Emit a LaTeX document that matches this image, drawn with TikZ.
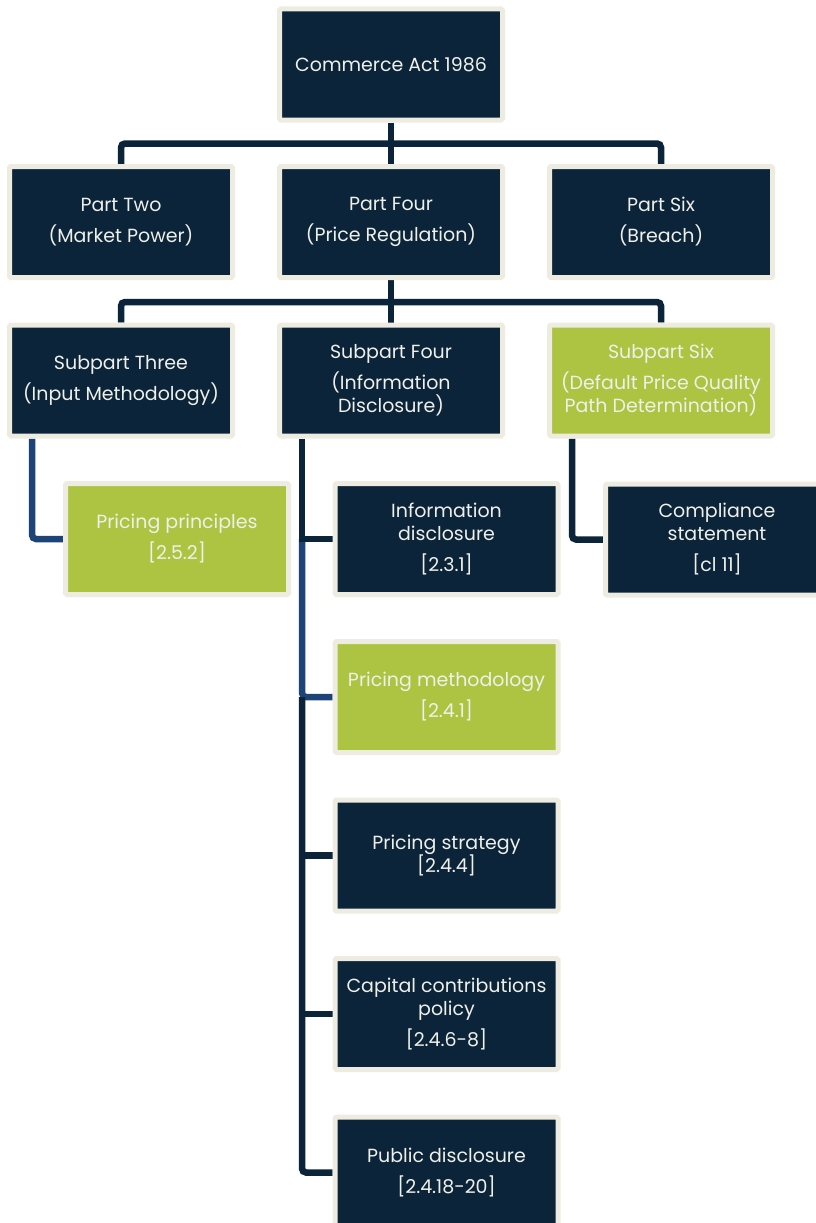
\documentclass[tikz,border=0pt]{standalone}
\usepackage{fontspec}
\setmainfont{Poppins}
\usetikzlibrary{backgrounds}
\definecolor{navy}{HTML}{0B2439}
\definecolor{cream}{HTML}{EEECE1}
\definecolor{lime}{HTML}{ADC342}
\definecolor{cblue}{HTML}{1E4477}
\definecolor{txt}{HTML}{F0F0EA}
\begin{document}
\begin{tikzpicture}[x=1pt,y=-1pt,
  box/.style={draw=cream, line width=5pt, fill=navy, minimum width=223pt, minimum height=111pt,
    inner sep=0pt, align=center, text=txt, font=\fontsize{19}{23}\selectfont, rounded corners=1.5pt},
  gbox/.style={box, fill=lime},
  conn/.style={draw=navy, line width=6.5pt, rounded corners=4pt},
  bconn/.style={conn, draw=cblue}]
\useasboundingbox (0,0) rectangle (816,1223);
\clip (0,0) rectangle (816,1223);

\node[box] (top) at (391,64.5) {Commerce Act 1986};
\node[box] (p2) at (121,222) {Part Two\\[8pt](Market Power)};
\node[box] (p4) at (391,222) {Part Four\\[8pt](Price Regulation)};
\node[box] (p6) at (661,222) {Part Six\\[8pt](Breach)};
\node[box] (s3) at (121,380.5) {Subpart Three\\[8pt](Input Methodology)};
\node[box] (s4) at (391,380.5) {Subpart Four\\[8pt](Information\\Disclosure)};
\node[gbox] (s6) at (661,380.5) {Subpart Six\\[8pt](Default Price Quality\\Path Determination)};
\node[gbox] (pp) at (177,539) {Pricing principles\\[8pt][2.5.2]};
\node[box] (c1) at (446.5,539) {Information\\disclosure\\[8pt][2.3.1]};
\node[gbox] (c2) at (446.5,697) {Pricing methodology\\[8pt][2.4.1]};
\node[box] (c3) at (446.5,855.5) {Pricing strategy\\{}[2.4.4]};
\node[box] (c4) at (446.5,1014) {Capital contributions\\policy\\[8pt][2.4.6-8]};
\node[box] (c5) at (446.5,1172.5) {Public disclosure\\[8pt][2.4.18-20]};
\node[box] (cs) at (717,539.5) {Compliance\\statement\\[8pt][cl 11]};

\begin{scope}[on background layer]
  \fill[white] (0,0) rectangle (816,1223);
  \coordinate (j1) at (391,143.5);
  \coordinate (j2) at (391,302);
  \path ([xshift=-89pt]s3.south) coordinate (s3t)
        ([xshift=-89pt]s4.south) coordinate (s4t)
        ([xshift=-89pt]s6.south) coordinate (s6t);
  \draw[conn] (top.south) -- (p4.north);
  \draw[conn] (p2.north) |- (j1) -| (p6.north);
  \draw[conn] (p4.south) -- (s4.north);
  \draw[conn] (s3.north) |- (j2) -| (s6.north);
  \draw[bconn] (s3t) |- (pp.west);
  \draw[conn] (s6t) |- (cs.west);
  \draw[bconn] (s4t |- c1.west) |- (c2.west);
  \draw[conn, rounded corners=0pt] (s4t) -- (s4t |- c1.west) -- (c1.west);
  \draw[conn] (s4t |- c2.west) |- (c5.west);
  \draw[conn] (s4t |- c3.west) -- (c3.west);
  \draw[conn] (s4t |- c4.west) -- (c4.west);
\end{scope}
\end{tikzpicture}
\end{document}
